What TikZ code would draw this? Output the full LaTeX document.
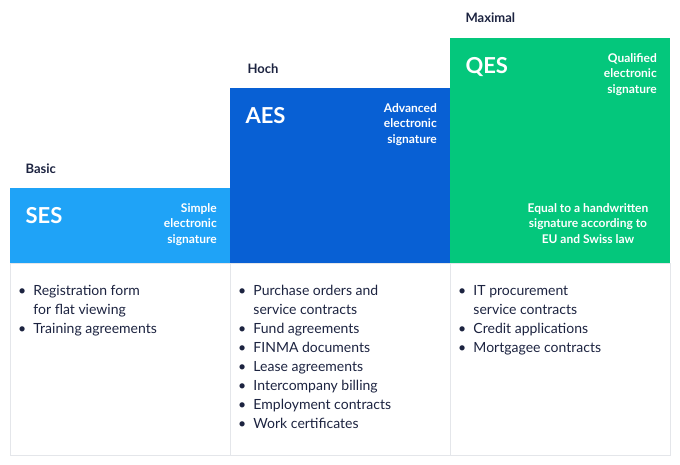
\documentclass[tikz,border=0pt]{standalone}
\usepackage{fontspec}
\setmainfont{Lato}
\definecolor{navy}{HTML}{1C2340}
\definecolor{sesblue}{HTML}{1FA3F7}
\definecolor{aesblue}{HTML}{0860D4}
\definecolor{qesgreen}{HTML}{04C77C}
\definecolor{rule}{HTML}{E4E6EA}
\tikzset{
  level/.style={anchor=base west,font=\bfseries\fontsize{13}{15}\selectfont,text=navy},
  abbr/.style={anchor=base west,font=\bfseries\fontsize{22}{24}\selectfont,text=white},
  desc/.style={anchor=north east,align=right,inner sep=0pt,font=\bfseries\fontsize{12}{15.5}\selectfont,text=white},
  item/.style={anchor=north west,align=left,inner sep=0pt,font=\fontsize{14}{19}\selectfont,text=navy},
}
\begin{document}
\begin{tikzpicture}[x=1pt,y=-1pt]
  \useasboundingbox (0,0) rectangle (680,465);

  % Stufen zeichnen
  \fill[sesblue] (10,188) rectangle (230,263);
  \fill[aesblue] (230,88) rectangle (450,263);
  \fill[qesgreen] (450,38) rectangle (670,263);

  % Untere Kasten
  \draw[rule] (10,263) rectangle (670,455);
  \draw[rule] (230,263) -- (230,455);
  \draw[rule] (450,263) -- (450,455);

  % Stufenbeschriftungen
  \node[level] (basic) at (22,174) {Basic};
  \node[level] (hoch) at (244,74) {Hoch};
  \node[level] (maximal) at (462,23) {Maximal};

  \node[abbr] (ses) at (22,224) {SES};
  \node[abbr] (aes) at (242,124) {AES};
  \node[abbr] (qes) at (462,74) {QES};

  \node[desc] (sesdesc) at (217,203) {Simple\\electronic\\signature};
  \node[desc] (aesdesc) at (437,103) {Advanced\\electronic\\signature};
  \node[desc] (qesdesc) at (657,53) {Qualified\\electronic\\signature};
  \node[desc,align=center,anchor=north] (qeslaw) at (588,203) {Equal to a handwritten\\signature according to\\EU and Swiss law};

  % Listen
  \node[item] (seslist) at (18,285) {%
    \textbullet\ \ Registration form\\
    \hphantom{\textbullet\ \ }for flat viewing\\
    \textbullet\ \ Training agreements};
  \node[item] (aeslist) at (238,285) {%
    \textbullet\ \ Purchase orders and\\
    \hphantom{\textbullet\ \ }service contracts\\
    \textbullet\ \ Fund agreements\\
    \textbullet\ \ FINMA documents\\
    \textbullet\ \ Lease agreements\\
    \textbullet\ \ Intercompany billing\\
    \textbullet\ \ Employment contracts\\
    \textbullet\ \ Work certificates};
  \node[item] (qeslist) at (458,285) {%
    \textbullet\ \ IT procurement\\
    \hphantom{\textbullet\ \ }service contracts\\
    \textbullet\ \ Credit applications\\
    \textbullet\ \ Mortgagee contracts};
\end{tikzpicture}
\end{document}
